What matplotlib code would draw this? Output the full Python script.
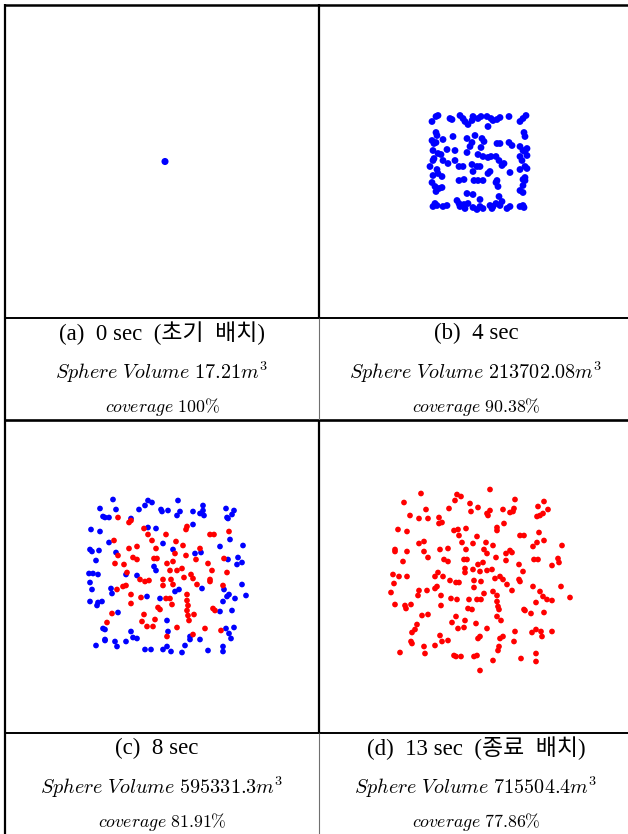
import numpy as np
import matplotlib
matplotlib.use("Agg")
import matplotlib.pyplot as plt
from matplotlib.lines import Line2D

plt.rcParams['mathtext.fontset'] = 'cm'
plt.rcParams['font.family'] = ['Liberation Serif', 'Noto Sans CJK KR']

# agent positions (m, relative to field centre) read from the snapshots
pts_a = [(3, 0)]

pts_b = [(-44, 40), (-40, 45), (-38, 46), (-26, 43), (-24, 42), (-16, 46), (-13, 43), (-11, 40),
         (-8, 37), (-4, 41), (-3, 45), (2, 43), (5, 45), (11, 45), (15, 43), (17, 41), (21, 42),
         (24, 44), (33, 45), (44, 40), (47, 43), (50, 46), (12, 35), (-40, 29), (-39, 26),
         (-33, 22), (-23, 25), (-9, 23), (-1, 26), (6, 23), (8, 20), (21, 18), (24, 18), (33, 19),
         (36, 16), (48, 29), (49, 25), (44, 15), (-44, 21), (-42, 18), (-40, 19), (-4, 19),
         (-6, 15), (5, 14), (51, 13), (47, 11), (49, 10), (-43, 11), (-38, 8), (-35, 7), (-29, 12),
         (-21, 11), (-9, 9), (2, 7), (7, 5), (12, 4), (15, 5), (20, 5), (23, 1), (44, 5), (51, 6),
         (-43, 1), (-42, 3), (-33, 1), (-28, -2), (-21, 1), (-17, -5), (-13, -5), (-4, -3),
         (1, -5), (4, -5), (14, -10), (26, -4), (28, -2), (34, -11), (46, 1), (49, -5), (51, -7),
         (-46, -5), (-39, -8), (-38, -12), (-43, -14), (-34, -15), (-3, -10), (12, -12), (44, -8),
         (49, -16), (47, -18), (-44, -21), (-41, -25), (-37, -27), (-34, -26), (-17, -19),
         (-12, -18), (-2, -19), (2, -19), (7, -19), (20, -21), (21, -19), (22, -25), (47, -24),
         (49, -19), (-40, -30), (44, -29), (47, -31), (-3, -33), (4, -38), (-9, -32), (23, -35),
         (-43, -45), (-41, -42), (-39, -44), (-33, -45), (-29, -44), (-19, -39), (-17, -42),
         (-16, -45), (-12, -43), (-11, -47), (-8, -42), (-3, -46), (1, -48), (4, -45), (7, -47),
         (14, -44), (16, -47), (17, -45), (20, -42), (24, -44), (26, -40), (31, -47), (34, -45),
         (44, -45), (47, -44), (48, -46)]

pts_c_blue = [(-49, 77), (-62, 68), (-46, 67), (-59, 60), (-57, 59), (-53, 59), (-23, 67), (-17, 71),
              (-14, 76), (-10, 74), (-1, 67), (0, 65), (6, 66), (16, 76), (18, 65), (15, 61),
              (31, 65), (38, 63), (41, 71), (41, 66), (42, 61), (64, 68), (72, 66), (65, 59),
              (66, 58), (70, 62), (-31, 58), (-71, 47), (-62, 45), (-14, 49), (-6, 48), (31, 52),
              (68, 37), (81, 31), (58, 30), (-53, 34), (-72, 27), (-70, 25), (-63, 26), (-46, 24),
              (11, 27), (1, 33), (33, 23), (39, 24), (-66, 16), (-73, 3), (-69, 3), (-64, 2),
              (-36, 2), (-25, 1), (-8, 10), (-6, 6), (66, 17), (76, 19), (80, 14), (75, 12),
              (-72, -6), (-70, -13), (-51, -12), (-50, -17), (17, -13), (13, -15), (40, -12),
              (80, -8), (84, -19), (62, -13), (67, -18), (65, -20), (73, -22), (61, -25), (-72, -25),
              (-64, -26), (-60, -25), (-65, -29), (-15, -20), (-2, -22), (-44, -36), (58, -35),
              (70, -34), (-59, -52), (-57, -53), (5, -44), (-31, -55), (-29, -61), (-25, -62),
              (-57, -63), (-57, -64), (64, -52), (67, -57), (69, -62), (72, -51), (6, -55),
              (28, -60), (28, -63), (38, -63), (23, -69), (46, -74), (61, -70), (61, -75),
              (-47, -65), (-45, -70), (-66, -69), (-36, -65), (-17, -73), (-11, -73), (1, -73),
              (5, -70), (9, -75), (20, -76)]

pts_c_red = [(-44, 59), (-31, 56), (-33, 54), (-18, 48), (-14, 42), (4, 42), (25, 50), (24, 47),
             (48, 42), (52, 42), (67, 45), (-48, 36), (-33, 28), (-25, 30), (-10, 36), (-6, 28),
             (14, 35), (21, 31), (38, 28), (13, 23), (24, 21), (34, 17), (-44, 21), (-29, 19),
             (-25, 17), (-8, 18), (-5, 18), (-47, 13), (-38, 12), (5, 13), (11, 15), (20, 8),
             (46, 13), (62, 18), (65, 4), (50, 6), (-35, 4), (8, 6), (15, 6), (29, 2), (31, -2),
             (22, -1), (-22, -3), (-17, -5), (-13, -4), (1, -3), (9, -3), (35, -8), (48, -3),
             (48, -5), (61, -9), (-36, -9), (-39, -10), (-45, -13), (-31, -18), (1, -9), (11, -8),
             (25, -18), (-21, -21), (4, -22), (8, -22), (10, -28), (25, -24), (26, -29), (-31, -27),
             (-4, -31), (-2, -33), (25, -34), (51, -32), (53, -34), (-50, -37), (-55, -46),
             (-18, -38), (-20, -45), (-7, -43), (26, -39), (27, -44), (32, -38), (-15, -50),
             (-9, -50), (15, -51), (43, -52), (59, -54), (31, -58), (5, -60)]

pts_d = [(-55, 83), (-72, 74), (-50, 67), (-66, 61), (-57, 58), (-48, 58), (-37, 59), (-34, 54),
         (-37, 53), (-27, 68), (-21, 76), (-19, 82), (-15, 80), (-6, 73), (-5, 65), (2, 69),
         (11, 63), (14, 66), (12, 61), (27, 67), (34, 64), (37, 65), (38, 68), (39, 77), (14, 87),
         (62, 70), (68, 75), (72, 67), (67, 63), (64, 61), (61, 60), (28, 53), (21, 49), (21, 46),
         (1, 40), (-10, 48), (-18, 47), (-22, 46), (-17, 41), (-14, 34), (-3, 33), (10, 34),
         (17, 31), (44, 41), (48, 41), (63, 44), (61, 34), (68, 36), (57, 30), (86, 31), (-78, 47),
         (-69, 45), (-57, 33), (-52, 35), (-81, 27), (-81, 25), (-69, 25), (-52, 25), (-48, 19),
         (-36, 27), (-28, 28), (-32, 17), (-28, 15), (-10, 27), (8, 27), (11, 23), (20, 19),
         (30, 23), (34, 26), (36, 24), (30, 16), (-12, 17), (-9, 17), (2, 12), (7, 14), (43, 12),
         (47, 5), (58, 17), (62, 17), (82, 18), (83, 14), (76, 11), (-73, 15), (-83, 2), (-77, 0),
         (-69, 0), (-82, -7), (-85, -16), (-81, -28), (-71, -29), (-70, -32), (-65, -28),
         (-57, -14), (-58, -19), (-49, -14), (-41, -12), (-39, -10), (-41, 0), (-38, 4), (-33, 0),
         (-26, -4), (-20, -6), (-17, -6), (-11, 8), (-11, 4), (-3, 7), (4, 5), (11, 6), (16, 7),
         (19, -2), (24, 0), (27, -3), (5, -5), (-2, -4), (-2, -11), (8, -17), (17, -15), (21, -19),
         (21, -25), (22, -30), (23, -33), (31, -8), (36, -14), (43, -3), (44, -5), (57, -10),
         (64, -15), (67, -20), (71, -23), (76, -24), (60, -26), (68, -36), (85, -10), (94, -21),
         (-35, -19), (-35, -29), (-25, -22), (-19, -23), (-7, -23), (1, -23), (5, -23), (-8, -32),
         (-4, -33), (-54, -39), (-48, -38), (-20, -40), (-24, -46), (-18, -52), (-11, -44),
         (-12, -51), (0, -47), (11, -52), (21, -40), (25, -44), (48, -33), (49, -34), (55, -37),
         (60, -53), (65, -55), (66, -60), (76, -55), (56, -56), (39, -55), (38, -65), (27, -60),
         (24, -62), (23, -70), (22, -74), (-59, -48), (-61, -53), (-64, -56), (-65, -65),
         (-64, -67), (-36, -59), (-34, -65), (-28, -64), (-41, -69), (-52, -70), (-51, -77),
         (-76, -76), (-22, -79), (-20, -80), (-15, -80), (-2, -80), (1, -79), (4, -60), (2, -62),
         (17, -84), (45, -82), (60, -77), (60, -85), (4, -94)]

labels = ["(a)  0 sec  (초기  배치)",
          "(b)  4 sec",
          "(c)  8 sec  ",
          "(d)  13 sec  (종료  배치)"]
volumes = ["17.21", "213702.08", "595331.3", "715504.4"]
coverages = ["100", "90.38", "81.91", "77.86"]

W, H = 628, 834
fig = plt.figure(figsize=(W / 100, H / 100), dpi=100)


def fx(px):
    return px / W


def fy(py):
    return 1 - py / H


cells = [(5, 5), (319, 5), (5, 420), (319, 420)]
cw, ch = 314, 313
panels = [[(pts_a, "#0000ff", 26)],
          [(pts_b, "#0000ff", 24)],
          [(pts_c_blue, "#0000ff", 17), (pts_c_red, "#ff0000", 17)],
          [(pts_d, "#ff0000", 17)]]

for (cx, cy), series in zip(cells, panels):
    ax = fig.add_axes([fx(cx), fy(cy + ch), cw / W, ch / H])
    for pts, col, s in series:
        xy = np.array(pts, dtype=float)
        ax.scatter(xy[:, 0], xy[:, 1], s=s, c=col, edgecolors="none")
    ax.set_xlim(-cw / 2, cw / 2)
    ax.set_ylim(-ch / 2, ch / 2)
    ax.axis("off")

# captions
for i, (cx, cy) in enumerate(cells):
    xc = cx + cw / 2
    ty = cy + ch
    fig.text(fx(xc), fy(ty + 15), labels[i], ha="center", va="center", fontsize=16.5)
    fig.text(fx(xc), fy(ty + 54),
             r"$\mathit{Sphere\ Volume}\ \mathrm{%s}m^3$" % volumes[i],
             ha="center", va="center", fontsize=14.5)
    fig.text(fx(xc), fy(ty + 89), r"$\mathit{coverage}\ \mathrm{%s\%%}$" % coverages[i],
             ha="center", va="center", fontsize=12.8)


def hline(y, x0, x1, lw, color="black"):
    fig.add_artist(Line2D([fx(x0), fx(x1)], [fy(y), fy(y)], transform=fig.transFigure,
                          lw=lw, color=color, solid_capstyle="butt"))


def vline(x, y0, y1, lw, color="black"):
    fig.add_artist(Line2D([fx(x), fx(x)], [fy(y0), fy(y1)], transform=fig.transFigure,
                          lw=lw, color=color, solid_capstyle="butt"))


hline(5, 4, 628, 1.8)
hline(318, 4, 628, 1.4)
hline(420, 4, 628, 1.9)
hline(733, 4, 628, 1.4)
vline(5, 4, 834, 1.6)
vline(319, 4, 318, 1.6)
vline(319, 318, 420, 0.8, "#707070")
vline(319, 420, 733, 1.6)
vline(319, 733, 834, 0.8, "#707070")

fig.savefig("out.png", dpi=100)
